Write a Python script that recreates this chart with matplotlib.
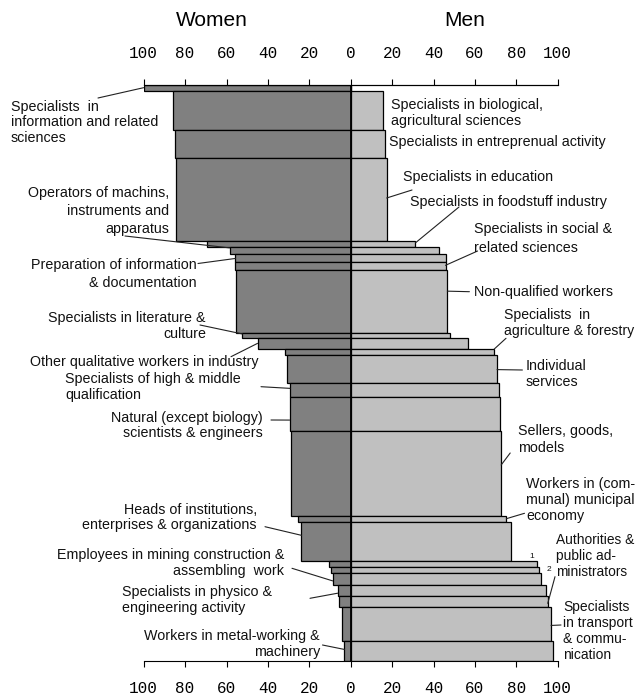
import matplotlib
matplotlib.use("Agg")
import matplotlib.pyplot as plt
import matplotlib.transforms as mtransforms
import numpy as np

# ---------------- data (rows from top to bottom) ----------------
row_labels = [
    "Specialists  in\ninformation and related\nsciences",
    "Specialists in biological,\nagricultural sciences",
    "Specialists in entreprenual activity",
    "Specialists in education",
    "Specialists in foodstuff industry",
    "Operators of machins,\ninstruments and\napparatus",
    "Preparation of information\n& documentation",
    "Specialists in social &\nrelated sciences",
    "Non-qualified workers",
    "Specialists in literature &\nculture",
    "Other qualitative workers in industry",
    "Specialists  in\nagriculture & forestry",
    "Individual\nservices",
    "Specialists of high & middle\nqualification",
    "Natural (except biology)\nscientists & engineers",
    "Sellers, goods,\nmodels",
    "Workers in (com-\nmunal) municipal\neconomy",
    "Heads of institutions,\nenterprises & organizations",
    "1",
    "2",
    "Employees in mining construction &\nassembling  work",
    "Specialists in physico &\nengineering activity",
    "Authorities &\npublic ad-\nministrators",
    "Specialists\nin transport\n& commu-\nnication",
    "Workers in metal-working &\nmachinery",
]
women = [100.0, 85.9, 85.1, 84.4, 69.2, 58.5, 55.7, 55.7, 55.4, 52.3, 45.0,
         31.6, 30.6, 29.3, 29.5, 28.7, 25.4, 23.8, 10.6, 9.7, 8.7, 6.3, 5.5,
         4.4, 3.0]
men = [0.0, 15.8, 16.7, 17.4, 31.3, 42.6, 45.8, 45.8, 46.7, 48.2, 56.9,
       69.3, 70.7, 71.5, 71.9, 72.7, 75.2, 77.5, 89.9, 91.0, 92.0, 94.4,
       95.2, 96.8, 97.7]
share = [1.1, 6.7, 5.0, 14.3, 1.1, 1.1, 1.4, 1.4, 10.9, 0.9, 1.9, 1.0, 4.9,
         2.5, 5.8, 14.8, 1.0, 6.8, 1.0, 1.0, 2.1, 2.0, 1.9, 5.9, 3.3]
label_side = ["W", "M", "M", "M", "M", "W", "W", "M", "M", "W", "W", "M",
              "M", "W", "W", "M", "M", "W", "M", "M", "W", "W", "M", "M", "W"]
xticks = [-100, -80, -60, -40, -20, 0, 20, 40, 60, 80, 100]

# ---------------- layout (pixel positions, top-left origin) ----------------
# (x, first line centre y, line step, ha, leader start or None, position in row, font size)
layout = [
    (11, 106, 15.5, "left", (98, 98), 0.5, 10.3),
    (390.6, 104.3, 15.7, "left", None, 0.5, 10.3),
    (388.6, 141.7, 16, "left", None, 0.5, 10.3),
    (403.3, 176.7, 16, "left", (412, 190), 0.48, 10.3),
    (410, 201.7, 16, "left", (459, 207), 0.3, 10.3),
    (169, 192.3, 18, "right", (125, 236), 0.1, 10.3),
    (197, 264.3, 18, "right", (198, 263.5), 0.6, 10.3),
    (473.5, 228.3, 19, "left", (477.6, 251), 0.45, 10.3),
    (473.5, 291.7, 16, "left", (469.4, 291.7), 0.34, 10.3),
    (206, 317.3, 16, "right", (200, 325), 0.25, 10.3),
    (258, 361.7, 16, "right", (231, 356.7), 0.5, 10.3),
    (504, 315, 15, "left", (506, 338.3), 0.05, 10.1),
    (525.7, 365.7, 16, "left", (522.4, 370), 0.53, 10.3),
    (65, 378.3, 16, "left", (261, 386.7), 0.38, 10.3),
    (263, 417.3, 15.4, "right", (271, 420), 0.68, 10.3),
    (518.4, 431, 16.3, "left", (510.2, 453), 0.4, 10.3),
    (526.5, 483.3, 16.2, "left", (524.5, 513.3), 0.43, 10.3),
    (257, 509.3, 15.7, "right", (265, 526.7), 0.34, 10.3),
    (531.8, 556, 0, "center", None, 0.5, 6),
    (549, 568.3, 0, "center", None, 0.5, 6),
    (284, 555, 15.7, "right", (292, 568.3), 0.67, 10.3),
    (122, 591.7, 15.7, "left", (310, 598.3), 0.72, 10.3),
    (556.5, 539.3, 16.2, "left", (555, 576.7), 0.63, 9.9),
    (563.3, 606.7, 15.8, "left", (561, 625), 0.53, 10.0),
    (320, 635.3, 16.3, "right", (322.5, 645), 0.42, 10.3),
]

W, H, DPI = 638, 696, 100
WOMEN_C = "#808080"
MEN_C = "#c0c0c0"
TXT_FONT = ["Liberation Sans", "DejaVu Sans"]
TICK_FONT = ["Liberation Mono", "DejaVu Sans Mono"]

fig = plt.figure(figsize=(W / DPI, H / DPI), dpi=DPI)
fig.patch.set_facecolor("white")

x0_px, x1_px = 143.7, 557.7
y0_px, y1_px = 84.5, 660.5
ax = fig.add_axes([x0_px / W, 1 - y1_px / H, (x1_px - x0_px) / W, (y1_px - y0_px) / H])

share_a = np.array(share)
tops = np.concatenate([[0], np.cumsum(share_a)[:-1]])
total = share_a.sum()

ax.barh(tops, -np.array(women), height=share_a, left=0, align="edge",
        color=WOMEN_C, edgecolor="black", linewidth=0.9, zorder=2)
ax.barh(tops, np.array(men), height=share_a, left=0, align="edge",
        color=MEN_C, edgecolor="black", linewidth=0.9, zorder=2)
ax.axvline(0, color="black", lw=1.3, zorder=5)

ax.set_xlim(-100, 100)
ax.set_ylim(total, 0)
ax.set_yticks([])
for s in ["left", "right"]:
    ax.spines[s].set_visible(False)
for s in ["top", "bottom"]:
    ax.spines[s].set_linewidth(0.8)
ax.set_facecolor("none")

fmt = lambda v: f"{abs(int(v))}"
ax.set_xticks(xticks)
ax.set_xticklabels([fmt(v) for v in xticks], family=TICK_FONT, fontsize=11.5)
ax.tick_params(axis="x", direction="out", length=4.5, width=0.8, pad=10.5,
               bottom=True, top=False)

ax2 = ax.twiny()
ax2.set_xlim(-100, 100)
ax2.set_xticks(xticks)
ax2.set_xticklabels([fmt(v) for v in xticks], family=TICK_FONT, fontsize=11.5)
ax2.tick_params(axis="x", direction="out", length=4.5, width=0.8, pad=12.5)
for s in ["left", "right", "bottom"]:
    ax2.spines[s].set_visible(False)
ax2.spines["top"].set_linewidth(0.8)

px = mtransforms.Affine2D().scale(1 / W, -1 / H).translate(0, 1) + fig.transFigure

fig.text(212, 21, "Women", transform=px, ha="center", va="center",
         fontsize=15, family=TXT_FONT)
fig.text(465, 21, "Men", transform=px, ha="center", va="center",
         fontsize=15, family=TXT_FONT)

for i, (lab, lay) in enumerate(zip(row_labels, layout)):
    x, yc, dy, ha, lead, frac, fs = lay
    small = lab in ("1", "2")
    for j, line in enumerate(lab.split("\n")):
        fig.text(x, yc + j * dy + (2.5 if small else 4.5), line, transform=px,
                 ha=ha, va="baseline", fontsize=fs,
                 family=TXT_FONT, color="#111111")
    if lead is not None:
        edge = -women[i] if label_side[i] == "W" else men[i]
        yb = tops[i] + frac * share[i]
        ax.annotate("", xy=(edge, yb), xycoords="data", xytext=lead,
                    textcoords=px, annotation_clip=False,
                    arrowprops=dict(arrowstyle="-", shrinkA=0, shrinkB=0,
                                    lw=0.8, color="#222222"))

fig.savefig("out.png", dpi=DPI, facecolor="white")
